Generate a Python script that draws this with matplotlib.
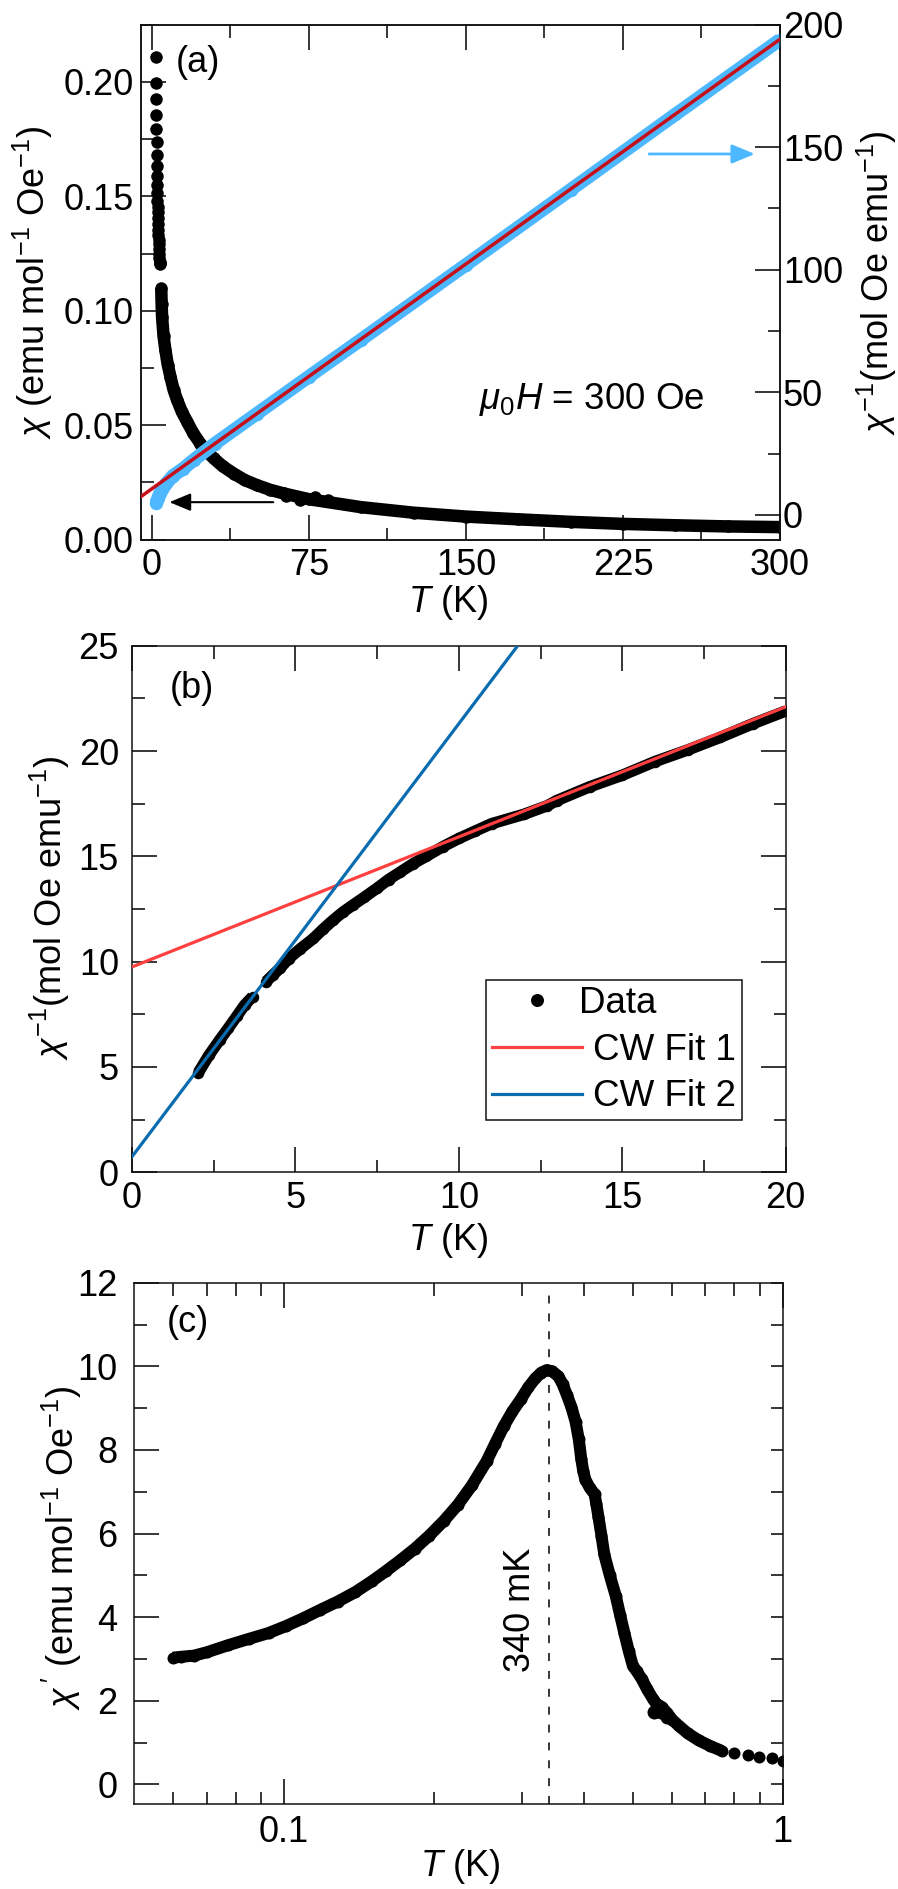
#!/usr/bin/env python3
# -*- coding: utf-8 -*-
import matplotlib
matplotlib.use('Agg')
import matplotlib.pyplot as plt
from matplotlib.ticker import MultipleLocator, FixedLocator, NullFormatter, FixedFormatter

plt.rcParams['font.family'] = ['Liberation Sans', 'DejaVu Sans']
plt.rcParams['mathtext.fontset'] = 'custom'
plt.rcParams['mathtext.rm'] = 'Liberation Sans'
plt.rcParams['mathtext.it'] = 'Liberation Sans:italic'
plt.rcParams['mathtext.bf'] = 'Liberation Sans:bold'
plt.rcParams['mathtext.default'] = 'regular'

# panel a, chi on the left axis
a_t_low = [1.9, 1.95, 2.0, 2.1, 2.2, 2.3, 2.4, 2.5, 2.55, 2.6, 2.65, 2.7, 2.8, 2.85, 2.9, 3.0,
           3.05, 3.1, 3.2, 3.3, 3.4, 3.5, 3.6, 3.7, 3.75, 3.8]
a_chi_low = [0.2108, 0.1994, 0.1924, 0.1855, 0.1796, 0.1739, 0.1683, 0.1634, 0.159, 0.1549,
             0.1513, 0.148, 0.1455, 0.143, 0.1405, 0.138, 0.1355, 0.133, 0.131, 0.129, 0.127,
             0.125, 0.123, 0.1215, 0.1208, 0.1205]
a_t = [4.5, 4.7, 4.9, 5.6, 6.5, 7.6, 8.9, 10.4, 12.1, 14.3, 16.9, 19.8, 23.2, 26.3, 29.6, 34, 39.1,
       44.5, 50.3, 56.5, 63, 75, 100, 125, 150, 175, 200, 225, 250, 275, 300]
a_chi = [0.110, 0.103, 0.0974, 0.089, 0.0828, 0.0765, 0.0712, 0.0655, 0.061, 0.056, 0.0515, 0.0465,
         0.042, 0.0385, 0.0355, 0.032, 0.0289, 0.026, 0.0238, 0.0218, 0.0202, 0.0177, 0.0142, 0.0118,
         0.0101, 0.0089, 0.0078, 0.0069, 0.0063, 0.0058, 0.0055]
a_bump_t = [64, 71, 78, 84]
a_bump_chi = [0.0192, 0.0172, 0.0186, 0.0172]

# panel a, inverse chi on the right axis
blue_t = [2, 3, 4, 5, 7, 10, 15, 20, 30, 50, 75, 100, 150, 200, 250, 300]
blue_y = [4.8, 6.9, 9.0, 10.4, 12.9, 15.9, 18.9, 22.4, 29, 41.2, 56.4, 71.5, 102, 132.6, 163.3, 193.8]
fit_a_t = [-5.4, 300]
fit_a_y = [7.35, 194]

# panel b
b_t1 = [2.03, 2.35, 2.69, 2.95, 3.2, 3.45, 3.69]
b_y1 = [4.73, 5.55, 6.3, 6.85, 7.4, 7.95, 8.34]
b_t2 = [4.1, 4.3, 4.53, 4.8, 5.14, 5.55, 5.85, 6.16, 6.45, 6.77, 7.1, 7.49, 7.85, 8.2, 8.6, 9, 9.5, 10,
        10.5, 11, 12, 12.7, 13, 14, 15, 16, 17, 18, 19, 20]
b_y2 = [9.05, 9.35, 9.69, 10.15, 10.6, 11.1, 11.55, 11.98, 12.35, 12.7, 13.05, 13.48, 13.9, 14.25,
        14.65, 15.0, 15.45, 15.85, 16.2, 16.55, 17.0, 17.4, 17.65, 18.3, 18.85, 19.5, 20.05, 20.65,
        21.3, 21.9]
fit1_t = [0, 20]
fit1_y = [9.75, 22.1]
fit2_t = [0, 11.8]
fit2_y = [0.74, 25]

# panel c
c_t = [0.0598, 0.062, 0.066, 0.07, 0.0773, 0.085, 0.0931, 0.101, 0.1091, 0.118, 0.128, 0.139, 0.15,
       0.16, 0.171, 0.183, 0.1955, 0.209, 0.2232, 0.238, 0.2548, 0.265, 0.2759, 0.287, 0.2987, 0.309,
       0.319, 0.328, 0.3365, 0.345, 0.355, 0.362, 0.369, 0.377, 0.3843, 0.39, 0.3945, 0.398, 0.402,
       0.41, 0.4195, 0.423, 0.427, 0.433, 0.4387, 0.45, 0.4625, 0.472, 0.4813, 0.491, 0.5007, 0.51,
       0.521, 0.535, 0.5495, 0.558, 0.572, 0.587, 0.60, 0.619, 0.645, 0.679, 0.715, 0.755]
c_chi = [3.03, 3.05, 3.08, 3.16, 3.33, 3.48, 3.62, 3.79, 3.97, 4.17, 4.37, 4.6, 4.86, 5.1, 5.36, 5.64,
         5.95, 6.3, 6.69, 7.15, 7.73, 8.15, 8.57, 8.92, 9.22, 9.5, 9.71, 9.85, 9.91, 9.88, 9.76, 9.57,
         9.32, 9.02, 8.67, 8.25, 7.78, 7.5, 7.29, 7.1, 6.94, 6.7, 6.4, 5.95, 5.5, 5.0, 4.51, 4.05, 3.62,
         3.2, 2.83, 2.7, 2.53, 2.27, 2.04, 1.93, 1.85, 1.7, 1.55, 1.40, 1.22, 1.05, 0.92, 0.80]
c_bump_t = [0.552, 0.57, 0.585]
c_bump_chi = [1.72, 1.72, 1.62]
c_tail_t = [0.80, 0.851, 0.897, 0.951, 1.0]
c_tail_chi = [0.75, 0.70, 0.65, 0.63, 0.55]
peak_t = 0.34

W, H = 898, 1889
FS = 26
BLUE = '#4DB8FF'
DARKRED = '#C4101A'
RED = '#FF4040'
NAVY = '#0A6CB0'
LW = 1.1


def px(n):
    return n * 72 / 100


def make_axes(fig, l, r, t, b):
    ax = fig.add_axes([l / W, 1 - b / H, (r - l) / W, (b - t) / H])
    for s in ax.spines.values():
        s.set_linewidth(LW)
        s.set_color('#111111')
    return ax


def set_ticks(ax, **kw):
    ax.tick_params(which='major', direction='in', length=px(25), width=LW, labelsize=FS, **kw)
    ax.tick_params(which='minor', direction='in', length=px(12.5), width=LW, **kw)


def band(ax, t, y, color, size, zorder=2):
    # overlapping data points, the line only closes the gaps between read values
    ax.plot(t, y, '-', color=color, lw=px(size), solid_capstyle='butt', solid_joinstyle='round', zorder=zorder)
    ax.plot(t, y, 'o', color=color, ms=px(size), mew=0, zorder=zorder)


def panel_a(fig):
    ax = make_axes(fig, 140.5, 780, 24.5, 539.7)
    ax.set_xlim(-5.4, 300)
    ax.set_ylim(0, 0.2251)
    ax.plot(a_t_low, a_chi_low, 'o', color='k', ms=px(12.5), mew=0)
    band(ax, a_t, a_chi, 'k', 12.5)
    ax.plot(a_bump_t, a_bump_chi, 'o', color='k', ms=px(12.5), mew=0)
    ax.xaxis.set_major_locator(MultipleLocator(75))
    ax.xaxis.set_minor_locator(MultipleLocator(37.5))
    ax.yaxis.set_major_locator(MultipleLocator(0.05))
    ax.yaxis.set_minor_locator(MultipleLocator(0.025))
    ax.yaxis.set_major_formatter('{x:.2f}')
    set_ticks(ax, top=True, right=False)
    ax.tick_params(axis='y', which='major', pad=5)
    ax.tick_params(axis='x', which='major', pad=6)
    ax.annotate('', xy=(8.4, 0.0164), xytext=(58, 0.0164),
                arrowprops=dict(arrowstyle='-|>,head_length=13,head_width=5.4', mutation_scale=1,
                                color='k', lw=1.5, shrinkA=0, shrinkB=0))

    ax2 = ax.twinx()
    ax2.set_ylim(-10.1, 200)
    band(ax2, blue_t, blue_y, BLUE, 13.5)
    ax2.plot(fit_a_t, fit_a_y, '-', color=DARKRED, lw=px(3.5), zorder=3)
    ax2.yaxis.set_major_locator(MultipleLocator(50))
    ax2.yaxis.set_minor_locator(MultipleLocator(25))
    set_ticks(ax2, left=False, right=True, top=False, bottom=False)
    ax2.tick_params(axis='y', which='major', pad=2)
    for s in ax2.spines.values():
        s.set_linewidth(LW)
        s.set_color('#111111')
    ax2.annotate('', xy=(288, 147.2), xytext=(237.5, 147.2),
                 arrowprops=dict(arrowstyle='-|>,head_length=14,head_width=5.8', mutation_scale=1,
                                 color=BLUE, lw=2, shrinkA=0, shrinkB=0))

    fig.text(198 / W, 1 - 62 / H, '(a)', fontsize=FS, ha='center', va='center')
    fig.text(592 / W, 1 - 400 / H, r'$\mathit{\mu}_0 \mathit{H}$ = 300 Oe', fontsize=26.5, ha='center', va='center')
    fig.text(33 / W, 1 - 282 / H, r'$\mathit{\chi}$ (emu mol$^{-1}$ Oe$^{-1}$)', fontsize=FS,
             rotation=90, ha='center', va='center')
    fig.text(877 / W, 1 - 283 / H, r'$\mathit{\chi}^{-1}$(mol Oe emu$^{-1}$)', fontsize=FS,
             rotation=90, ha='center', va='center')
    fig.text(448 / W, 1 - 602 / H, r'$\mathit{T}$ (K)', fontsize=FS, ha='center', va='center')


def panel_b(fig):
    ax = make_axes(fig, 132, 785.7, 645.7, 1172.3)
    ax.set_xlim(0, 20)
    ax.set_ylim(0, 25)
    band(ax, b_t1, b_y1, 'k', 11.5)
    band(ax, b_t2, b_y2, 'k', 11.5)
    ax.plot([], [], 'o', color='k', ms=px(13), mew=0, label='Data')
    ax.plot(fit1_t, fit1_y, '-', color=RED, lw=px(3.2), zorder=3, label='CW Fit 1')
    ax.plot(fit2_t, fit2_y, '-', color=NAVY, lw=px(3.2), zorder=3, label='CW Fit 2')
    ax.xaxis.set_major_locator(MultipleLocator(5))
    ax.xaxis.set_minor_locator(MultipleLocator(2.5))
    ax.yaxis.set_major_locator(MultipleLocator(5))
    ax.yaxis.set_minor_locator(MultipleLocator(2.5))
    set_ticks(ax, top=True, right=True)
    ax.tick_params(axis='y', which='major', pad=9.4)
    ax.tick_params(axis='x', which='major', pad=6)
    leg = ax.legend(loc='lower right', bbox_to_anchor=(0.9327, 0.0993), borderaxespad=0, fontsize=26.5,
                    frameon=True, fancybox=False, framealpha=1, edgecolor='#111111', borderpad=0.15,
                    handlelength=2.46, handletextpad=0.3, labelspacing=0.32)
    leg.get_frame().set_linewidth(LW)
    # the reference has the word Data set a little left of the two fit labels
    leg.get_texts()[0].set_position((-14, 0))
    fig.text(192 / W, 1 - 689 / H, '(b)', fontsize=FS, ha='center', va='center')
    fig.text(50 / W, 1 - 908 / H, r'$\mathit{\chi}^{-1}$(mol Oe emu$^{-1}$)', fontsize=FS,
             rotation=90, ha='center', va='center')
    fig.text(448 / W, 1 - 1240 / H, r'$\mathit{T}$ (K)', fontsize=FS, ha='center', va='center')


def panel_c(fig):
    ax = make_axes(fig, 134, 782.7, 1282.7, 1804)
    ax.set_xscale('log')
    ax.set_xlim(0.05, 1)
    ax.set_ylim(-0.47, 12)
    ax.plot([peak_t, peak_t], [-0.47, 11.85], color='k', lw=LW, ls=(0, (5.2, 6.5)), zorder=1)
    band(ax, c_t, c_chi, 'k', 12)
    ax.plot(c_bump_t, c_bump_chi, 'o', color='k', ms=px(14), mew=0)
    ax.plot(c_tail_t, c_tail_chi, 'o', color='k', ms=px(12), mew=0)
    ax.xaxis.set_major_locator(FixedLocator([0.1, 1]))
    ax.xaxis.set_major_formatter(FixedFormatter(['0.1', '1']))
    ax.xaxis.set_minor_locator(FixedLocator([0.06, 0.07, 0.08, 0.09, 0.2, 0.3, 0.4, 0.5, 0.6, 0.7, 0.8, 0.9]))
    ax.xaxis.set_minor_formatter(NullFormatter())
    ax.yaxis.set_major_locator(MultipleLocator(2))
    ax.yaxis.set_minor_locator(MultipleLocator(1))
    set_ticks(ax, top=True, right=True)
    ax.tick_params(axis='y', which='major', pad=12)
    ax.tick_params(axis='x', which='major', pad=8)
    for tick in ax.yaxis.get_major_ticks():
        tick.tick2line.set_markersize(px(12.5))
    fig.text(188 / W, 1 - 1322 / H, '(c)', fontsize=FS, ha='center', va='center')
    fig.text(520 / W, 1 - 1610 / H, '340 mK', fontsize=FS, rotation=90, ha='center', va='center')
    fig.text(62 / W, 1 - 1548 / H, r"$\mathit{\chi}\,'$ (emu mol$^{-1}$ Oe$^{-1}$)", fontsize=FS,
             rotation=90, ha='center', va='center')
    fig.text(460 / W, 1 - 1866 / H, r'$\mathit{T}$ (K)', fontsize=FS, ha='center', va='center')


def main():
    fig = plt.figure(figsize=(W / 100, H / 100), dpi=100)
    panel_a(fig)
    panel_b(fig)
    panel_c(fig)
    fig.savefig('out.png', dpi=100)
    plt.close('all')


if __name__ == '__main__':
    main()
